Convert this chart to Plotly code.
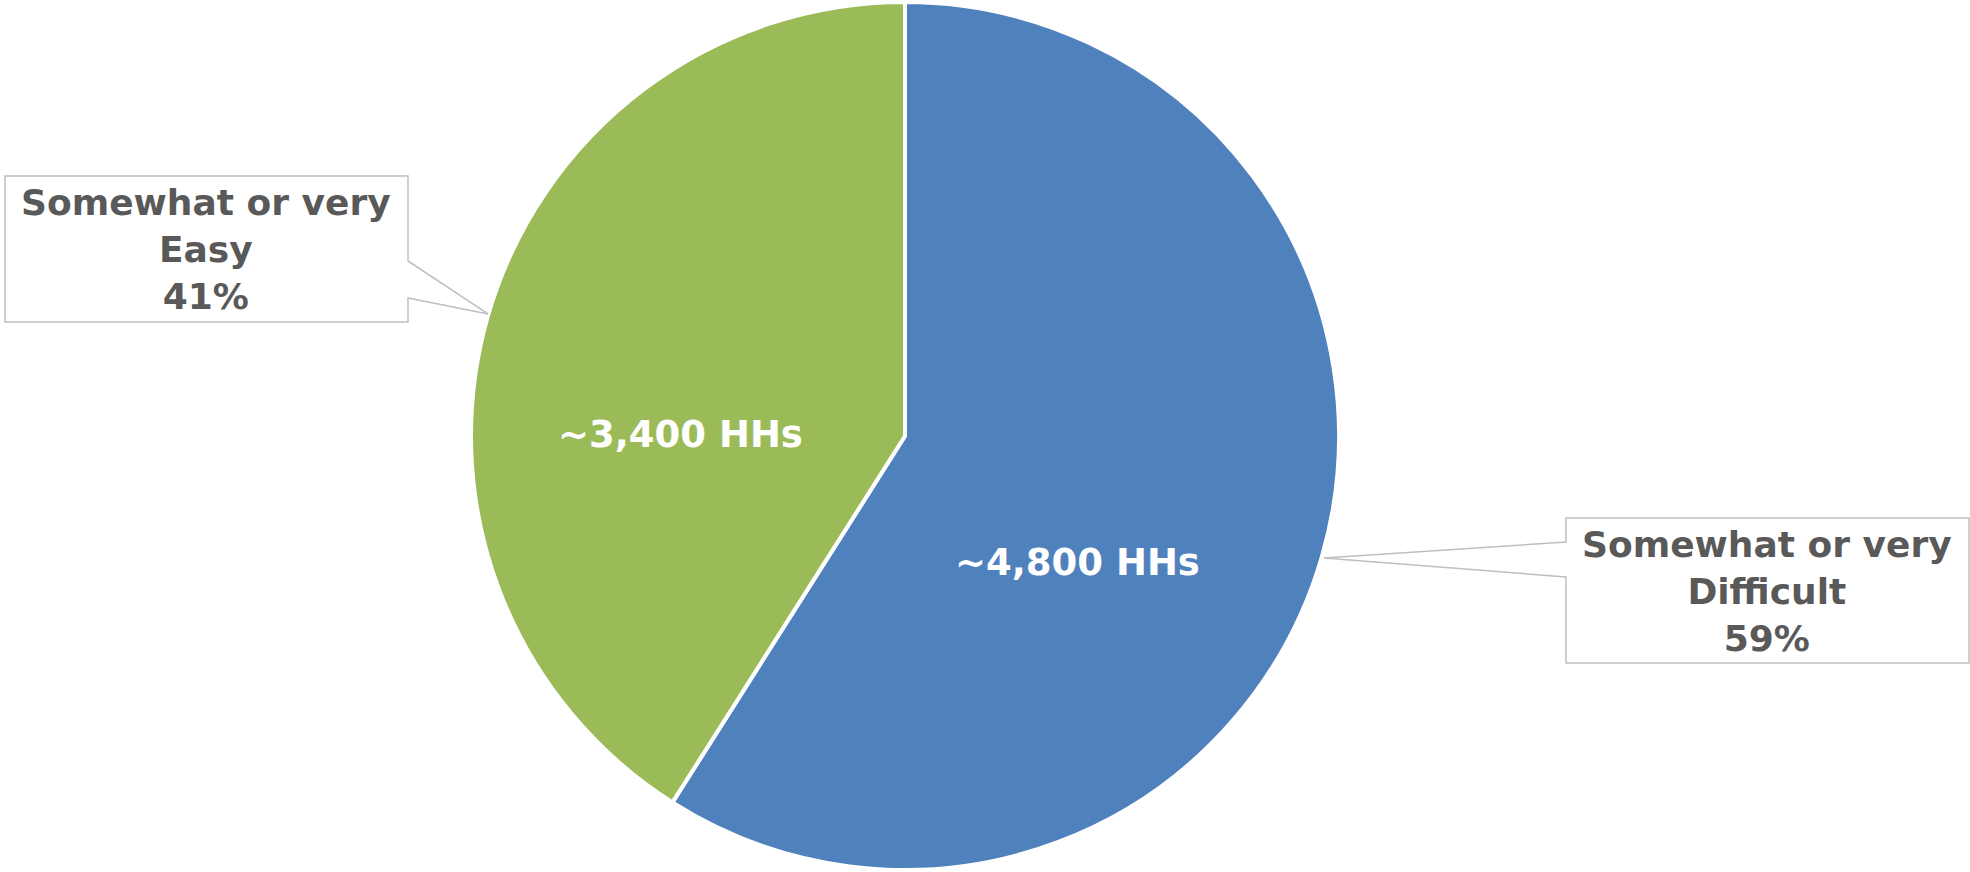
import plotly.graph_objects as go

# Data
categories = ["Somewhat or very<br>Difficult", "Somewhat or very<br>Easy"]
share_pct = [59, 41]          # slice shares (%)
households = [4800, 3400]     # approx. household counts shown inside slices
slice_colors = ["#4F81BD", "#9BBB59"]

W, H = 1970, 872
TEXT_GRAY = "#595959"
BOX_GRAY = "#BFBFBF"
FONT = "DejaVu Sans"


def px(x, y):
    """pixel position -> paper coords"""
    return x / W, 1 - y / H


# pie centre (905, 436), radius ~434 incl. the white edge
cx, cy, r = 905, 436, 434
fig = go.Figure(go.Pie(
    labels=categories,
    values=share_pct,
    sort=False,
    direction="clockwise",
    rotation=0,
    marker=dict(colors=slice_colors, line=dict(color="white", width=4)),
    textinfo="none",
    hoverinfo="label+percent",
    showlegend=False,
    domain=dict(x=[(cx - r) / W, (cx + r) / W], y=[(H - cy - r) / H, (H - cy + r) / H]),
))


# callout boxes with a pointer towards the slice
def callout(box, join_top, join_bot, tip, side):
    x0, y0, x1, y1 = box
    if side == "right":  # pointer leaves from right edge
        pts = [(x0, y0), (x1, y0), (x1, join_top), tip, (x1, join_bot), (x1, y1), (x0, y1)]
    else:
        pts = [(x0, y0), (x1, y0), (x1, y1), (x0, y1), (x0, join_bot), tip, (x0, join_top)]
    path = "M " + " L ".join("{:.5f},{:.5f}".format(*px(*p)) for p in pts) + " Z"
    fig.add_shape(type="path", path=path, xref="paper", yref="paper",
                  line=dict(color=BOX_GRAY, width=1.5), fillcolor="white", layer="above")


callout((5, 176, 408, 322), 261, 298, (488, 314), "right")
callout((1566, 518, 1969, 663), 542, 577, (1324, 558), "left")

outer_pos = [(1767, 591), (206, 249)]
for cat, p, (x, y) in zip(categories, share_pct, outer_pos):
    ax, ay = px(x, y)
    fig.add_annotation(x=ax, y=ay, xref="paper", yref="paper", showarrow=False,
                       text=f"<b>{cat}<br>{p}%</b>", align="center",
                       xanchor="center", yanchor="middle",
                       font=dict(family=FONT, size=36, color=TEXT_GRAY))

inner_pos = [(1077, 562), (680, 434)]
for v, (x, y) in zip(households, inner_pos):
    ax, ay = px(x, y)
    fig.add_annotation(x=ax, y=ay, xref="paper", yref="paper", showarrow=False,
                       text=f"<b>~{v:,} HHs</b>",
                       xanchor="center", yanchor="middle",
                       font=dict(family=FONT, size=37, color="white"))

fig.update_layout(
    width=W, height=H,
    margin=dict(l=0, r=0, t=0, b=0),
    paper_bgcolor="white",
    plot_bgcolor="white",
)

# drop the default 8px body margin so the figure sits flush in the window
fig.write_html("out.html", config={"displayModeBar": False},
               post_script="document.body.style.margin = '0px';")
